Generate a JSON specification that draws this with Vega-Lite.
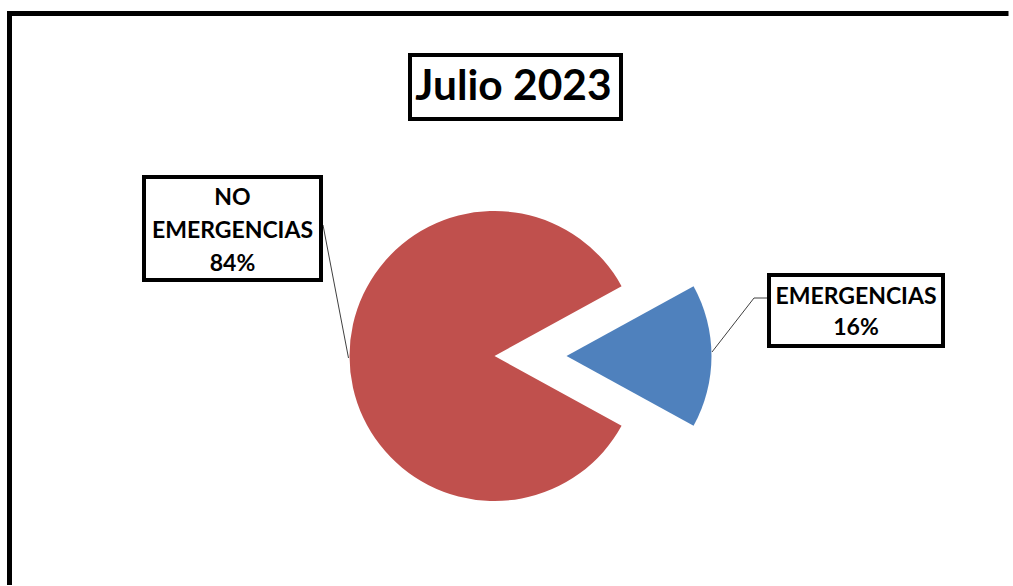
{
  "$schema": "https://vega.github.io/schema/vega-lite/v6.json",
  "autosize": "none",
  "width": 1003,
  "height": 572,
  "padding": {"left": 10, "top": 14, "right": 0, "bottom": 0},
  "background": "white",
  "config": {"view": {"stroke": null}, "text": {"font": "Lato", "color": "black"}},
  "data": {"values": [
    {"category": "EMERGENCIAS", "share": 0.16},
    {"category": "NO EMERGENCIAS", "share": 0.84}
  ]},
  "layer": [
    {
      "data": {"values": [{"title": "Julio 2023"}]},
      "mark": {"type": "point", "shape": "M-502,285V-286.5H497", "size": 4, "filled": false, "stroke": "black", "strokeWidth": 5, "strokeCap": "butt", "opacity": 1},
      "encoding": {}
    },
    {
      "mark": {"type": "arc", "radius": 145, "xOffset": -17, "yOffset": 56},
      "encoding": {
        "theta": {"field": "share", "type": "quantitative", "stack": true, "scale": {"range": [1.06814, 7.35133]}},
        "order": {"field": "category", "sort": "ascending"},
        "color": {"field": "category", "type": "nominal", "scale": {"domain": ["EMERGENCIAS", "NO EMERGENCIAS"], "range": ["#4F81BD", "#C0504D"]}, "legend": null},
        "opacity": {"condition": {"test": "datum.category === 'EMERGENCIAS'", "value": 0}, "value": 1}
      }
    },
    {
      "mark": {"type": "arc", "radius": 145, "xOffset": 55, "yOffset": 56},
      "encoding": {
        "theta": {"field": "share", "type": "quantitative", "stack": true, "scale": {"range": [1.06814, 7.35133]}},
        "order": {"field": "category", "sort": "ascending"},
        "color": {"field": "category", "type": "nominal", "scale": {"domain": ["EMERGENCIAS", "NO EMERGENCIAS"], "range": ["#4F81BD", "#C0504D"]}, "legend": null},
        "opacity": {"condition": {"test": "datum.category === 'NO EMERGENCIAS'", "value": 0}, "value": 1}
      }
    },
    {
      "transform": [{"filter": "datum.category === 'NO EMERGENCIAS'"}],
      "mark": {"type": "point", "shape": "M-12.75,-66.5L12.75,66.5", "size": 4, "filled": false, "stroke": "#404040", "strokeWidth": 1, "opacity": 1, "xOffset": -175.75, "yOffset": -8.5},
      "encoding": {}
    },
    {
      "transform": [{"filter": "datum.category === 'EMERGENCIAS'"}],
      "mark": {"type": "point", "shape": "M-42,54L0,0L13,0", "size": 4, "filled": false, "stroke": "#404040", "strokeWidth": 1, "opacity": 1, "xOffset": 242.5, "yOffset": -2},
      "encoding": {}
    },
    {
      "transform": [{"filter": "datum.category === 'NO EMERGENCIAS'"}],
      "mark": {"type": "point", "shape": "M-1,-0.582H1V0.582H-1Z", "size": 31329, "filled": true, "fill": "white", "stroke": "black", "strokeWidth": 4, "opacity": 1, "xOffset": -279, "yOffset": -71.5},
      "encoding": {}
    },
    {
      "transform": [{"filter": "datum.category === 'EMERGENCIAS'"}],
      "mark": {"type": "point", "shape": "M-1,-0.408H1V0.408H-1Z", "size": 30276, "filled": true, "fill": "white", "stroke": "black", "strokeWidth": 4, "opacity": 1, "xOffset": 344.5, "yOffset": 10.5},
      "encoding": {}
    },
    {
      "transform": [{"filter": "datum.category === 'NO EMERGENCIAS'"}],
      "mark": {"type": "text", "fontSize": 23, "fontWeight": "bold", "align": "center", "baseline": "alphabetic", "lineBreak": " ", "lineHeight": 33, "xOffset": -279, "yOffset": -95},
      "encoding": {"text": {"field": "category", "type": "nominal"}}
    },
    {
      "transform": [{"filter": "datum.category === 'NO EMERGENCIAS'"}],
      "mark": {"type": "text", "fontSize": 23, "fontWeight": "bold", "align": "center", "baseline": "alphabetic", "xOffset": -279, "yOffset": -29},
      "encoding": {"text": {"field": "share", "type": "quantitative", "format": ".0%"}}
    },
    {
      "transform": [{"filter": "datum.category === 'EMERGENCIAS'"}],
      "mark": {"type": "text", "fontSize": 23, "fontWeight": "bold", "align": "center", "baseline": "alphabetic", "xOffset": 344.5, "yOffset": 4},
      "encoding": {"text": {"field": "category", "type": "nominal"}}
    },
    {
      "transform": [{"filter": "datum.category === 'EMERGENCIAS'"}],
      "mark": {"type": "text", "fontSize": 23, "fontWeight": "bold", "align": "center", "baseline": "alphabetic", "xOffset": 344.5, "yOffset": 35},
      "encoding": {"text": {"field": "share", "type": "quantitative", "format": ".0%"}}
    },
    {
      "data": {"values": [{"title": "Julio 2023"}]},
      "mark": {"type": "point", "shape": "M-1,-0.303H1V0.303H-1Z", "size": 44521, "filled": true, "fill": "white", "stroke": "black", "strokeWidth": 4, "opacity": 1, "xOffset": 4, "yOffset": -213},
      "encoding": {}
    },
    {
      "data": {"values": [{"title": "Julio 2023"}]},
      "mark": {"type": "text", "fontSize": 42.5, "fontWeight": "bold", "align": "center", "baseline": "alphabetic", "xOffset": 2, "yOffset": -200},
      "encoding": {"text": {"field": "title", "type": "nominal"}}
    }
  ]
}
